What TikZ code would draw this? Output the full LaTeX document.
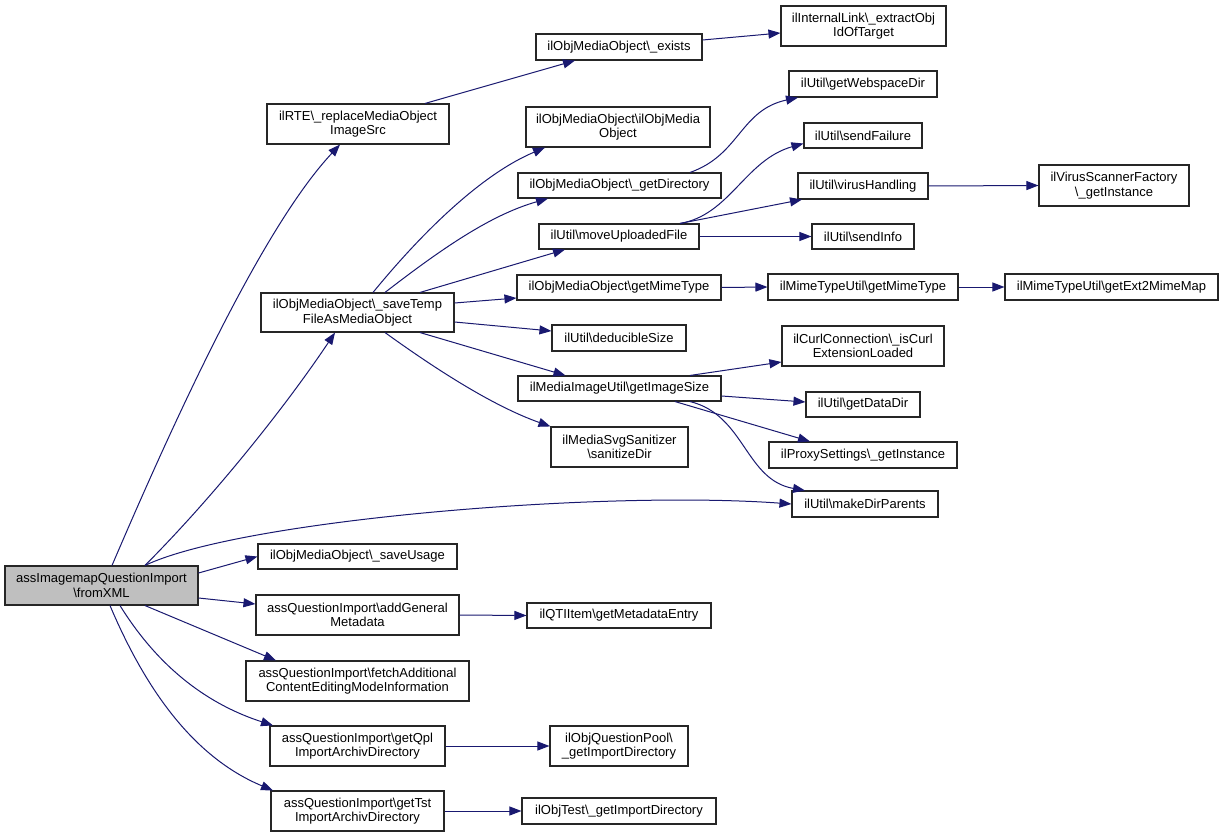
\documentclass[tikz,border=0pt]{standalone}
\usepackage{fontspec}
\setmainfont{Liberation Sans}
\usetikzlibrary{arrows.meta}
\definecolor{edgecol}{HTML}{191970}
\definecolor{mainfill}{HTML}{BFBFBF}
\newcommand\bs{\textbackslash}
\newcommand\mkbox[7][]{%
  \node[box,#1,minimum width={#5-#3},minimum height={#6-#4}] (#2) at ({(#3+#5)/2},{(#4+#6)/2}) {#7};}
\begin{document}
\begin{tikzpicture}[x=1pt,y=-1pt,
  box/.style={draw=black!85,line width=1.1pt,inner sep=0pt,align=center,fill=white,
    font=\fontsize{13}{14.5}\selectfont},
  edge/.style={draw=edgecol,line width=1pt,-{Triangle[length=12pt,width=9pt]}}]
\useasboundingbox[fill=white] (0,0) rectangle (1229,837);
\mkbox[fill=mainfill]{main}{5}{566}{198}{605}{assImagemapQuestionImport\\\bs fromXML}
\mkbox{rte}{267}{104}{449}{144}{ilRTE\bs\_replaceMediaObject\\ImageSrc}
\mkbox{exists}{536}{34}{702}{60}{ilObjMediaObject\bs\_exists}
\mkbox{ilink}{781}{6}{946}{46}{ilInternalLink\bs\_extractObj\\IdOfTarget}
\mkbox{ctor}{526}{107}{710}{147}{ilObjMediaObject\bs ilObjMedia\\Object}
\mkbox{webdir}{789}{71}{937}{97}{ilUtil\bs getWebspaceDir}
\mkbox{sfail}{804}{123}{922}{148}{ilUtil\bs sendFailure}
\mkbox{virus}{798}{173}{928}{199}{ilUtil\bs virusHandling}
\mkbox{vsf}{1039}{165}{1189}{206}{ilVirusScannerFactory\\\bs\_getInstance}
\mkbox{savetemp}{261}{293}{454}{332}{ilObjMediaObject\bs\_saveTemp\\FileAsMediaObject}
\mkbox{getdir}{518}{173}{721}{198}{ilObjMediaObject\bs\_getDirectory}
\mkbox{move}{539}{224}{699}{249}{ilUtil\bs moveUploadedFile}
\mkbox{omime}{517}{275}{721}{300}{ilObjMediaObject\bs getMimeType}
\mkbox{dedu}{552}{325}{686}{351}{ilUtil\bs deducibleSize}
\mkbox{imgsize}{518}{376}{721}{401}{ilMediaImageUtil\bs getImageSize}
\mkbox{svg}{551}{427}{688}{467}{ilMediaSvgSanitizer\\\bs sanitizeDir}
\mkbox{sinfo}{812}{224}{914}{249}{ilUtil\bs sendInfo}
\mkbox{mtu}{768}{274}{958}{300}{ilMimeTypeUtil\bs getMimeType}
\mkbox{ext}{1005}{274}{1218}{300}{ilMimeTypeUtil\bs getExt2MimeMap}
\mkbox{curl}{782}{326}{944}{366}{ilCurlConnection\bs\_isCurl\\ExtensionLoaded}
\mkbox{datadir}{806}{392}{920}{417}{ilUtil\bs getDataDir}
\mkbox{proxy}{769}{442}{957}{468}{ilProxySettings\bs\_getInstance}
\mkbox{mkdir}{792}{491}{938}{517}{ilUtil\bs makeDirParents}
\mkbox{usage}{258}{544}{457}{569}{ilObjMediaObject\bs\_saveUsage}
\mkbox{addgen}{256}{595}{459}{635}{assQuestionImport\bs addGeneral\\Metadata}
\mkbox{meta}{527}{603}{711}{628}{ilQTIItem\bs getMetadataEntry}
\mkbox{fetch}{246}{661}{469}{701}{assQuestionImport\bs fetchAdditional\\ContentEditingModeInformation}
\mkbox{qpl}{270}{726}{445}{766}{assQuestionImport\bs getQpl\\ImportArchivDirectory}
\mkbox{qpool}{550}{726}{688}{766}{ilObjQuestionPool\bs\\\_getImportDirectory}
\mkbox{tst}{271}{791}{444}{831}{assQuestionImport\bs getTst\\ImportArchivDirectory}
\mkbox{otest}{522}{798}{716}{824}{ilObjTest\bs\_getImportDirectory}
% edges from main
\draw[edge] ([xshift=10.5pt]main.north) .. controls (170,430) and (260,230) .. ([xshift=-18pt]rte.south);
\draw[edge] ([xshift=43.5pt]main.north) .. controls (220,490) and (290,400) .. ([xshift=-22.5pt]savetemp.south);
\draw[edge] ([xshift=43.5pt]main.north) .. controls (240,520) and (600,490) .. (mkdir.west);
\draw[edge] ([yshift=12.5pt]main.east) -- (usage.west);
\draw[edge] ([yshift=-12.5pt]main.east) -- ([yshift=11pt]addgen.west);
\draw[edge] ([xshift=43.5pt]main.south) -- ([xshift=-81.5pt]fetch.north);
\draw[edge] ([xshift=18.5pt]main.south) .. controls (160,670) and (210,705) .. ([xshift=-84.5pt]qpl.north);
\draw[edge] ([xshift=8.5pt]main.south) .. controls (150,700) and (200,760) .. ([xshift=-84.5pt]tst.north);
% others
\draw[edge] ([xshift=67pt]rte.north) -- ([xshift=-44pt]exists.south);
\draw[edge] ([yshift=7pt]exists.east) -- ([yshift=-7pt]ilink.west);
\draw[edge] ([xshift=15.5pt]savetemp.north) .. controls (420,235) and (480,175) .. ([xshift=-73pt]ctor.south);
\draw[edge] ([xshift=27.5pt]savetemp.north) .. controls (440,250) and (490,215) .. ([xshift=-71.5pt]getdir.south);
\draw[edge] ([xshift=62.5pt]savetemp.north) -- ([xshift=-54pt]move.south);
\draw[edge] ([yshift=9.5pt]savetemp.east) -- ([yshift=-10.5pt]omime.west);
\draw[edge] ([yshift=-9.5pt]savetemp.east) -- ([yshift=7pt]dedu.west);
\draw[edge] ([xshift=62.5pt]savetemp.south) -- ([xshift=-54pt]imgsize.north);
\draw[edge] ([xshift=27.5pt]savetemp.south) .. controls (430,365) and (490,405) .. (svg.north west);
\draw[edge] ([xshift=70.5pt]getdir.north) .. controls (740,155) and (740,110) .. ([xshift=-65pt]webdir.south);
\draw[edge] ([xshift=61pt]move.north) .. controls (730,215) and (745,160) .. ([yshift=-8pt]sfail.west);
\draw[edge] ([xshift=61pt]move.north) -- ([xshift=-61pt]virus.south);
\draw[edge] (move.east) -- (sinfo.west);
\draw[edge] (virus.east) -- (vsf.west);
\draw[edge] (omime.east) -- (mtu.west);
\draw[edge] (mtu.east) -- (ext.west);
\draw[edge] ([xshift=70.5pt]imgsize.north) -- ([yshift=-16pt]curl.west);
\draw[edge] ([yshift=-7.5pt]imgsize.east) -- ([yshift=2.5pt]datadir.west);
\draw[edge] ([xshift=55.5pt]imgsize.south) -- ([xshift=-53pt]proxy.north);
\draw[edge] ([xshift=70.5pt]imgsize.south) .. controls (745,415) and (745,480) .. ([xshift=-60pt]mkdir.north);
\draw[edge] (addgen.east) -- (meta.west);
\draw[edge] (qpl.east) -- (qpool.west);
\draw[edge] (tst.east) -- (otest.west);
\end{tikzpicture}
\end{document}
